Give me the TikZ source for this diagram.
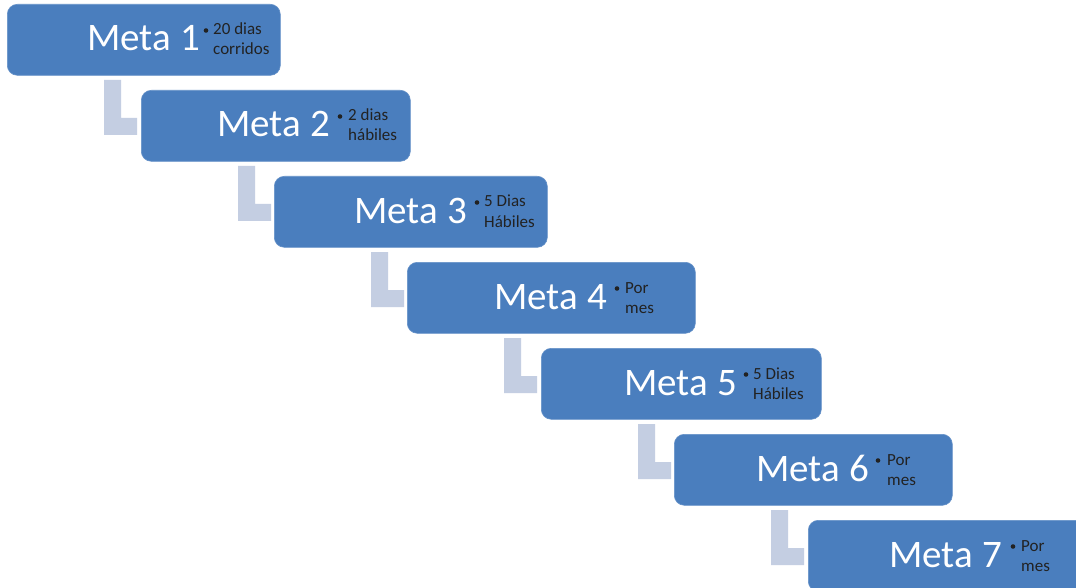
\documentclass[tikz,border=0pt]{standalone}
\usepackage{fontspec}
\setmainfont{Carlito}
\definecolor{boxblue}{HTML}{4A7EBE}
\definecolor{lgray}{HTML}{C4CEE2}
\definecolor{small}{HTML}{222222}
\tikzset{
  metabox/.style={draw=boxblue!85!white, line width=0.6pt, fill=boxblue, rounded corners=10pt, anchor=north west, inner sep=0pt},
  metatext/.style={anchor=base east, text=white, inner sep=0pt, font=\fontsize{39}{44}\selectfont},
  subtext/.style={anchor=base west, text=small, inner sep=0pt, text height=12pt, text depth=3pt, font=\fontsize{17}{20}\selectfont},
  dot/.style={circle, fill=small, inner sep=0pt, minimum size=4.6pt},
  lshape/.style={fill=lgray}
}
\begin{document}
\begin{tikzpicture}[x=1pt,y=-1pt]
\useasboundingbox (0,0) rectangle (1076,588);
\clip (0,0) rectangle (1076,588);
\fill[white] (0,0) rectangle (1076,588);
\foreach \i/\l/\r/\t/\m/\bx/\tx/\la/\lb in {
  1/7/280/4/200/206/213/20 dias/corridos,
  2/141/410/90/330/340/348/2 dias/hábiles,
  3/274/547/176/467/477/484/5 Dias/Hábiles,
  4/407/695/262/607/617/625/Por/mes,
  5/541/821/348/737/746/753/5 Dias/Hábiles,
  6/674/952/434/869/878/887/Por/mes,
  7/808/1090/520/1002/1013/1021/Por/mes}{
  \ifnum\i<7
    \fill[lshape] (\l+97,\t+76) -- (\l+97,\t+131) -- (\l+130,\t+131) -- (\l+130,\t+114) -- (\l+114,\t+114) -- (\l+114,\t+76) -- cycle;
  \fi
  \node[metabox, minimum width={(\r-\l)*1pt}, minimum height=71pt] (b\i) at (\l,\t) {};
  \node[metatext] (m\i) at (\m,\t+47) {Meta \i};
  \node[dot] (d\i) at (\bx,\t+26.5) {};
  \node[subtext] (s\i a) at (\tx,\t+31) {\la};
  \node[subtext] (s\i b) at (\tx,\t+51) {\lb};
}
\end{tikzpicture}
\end{document}
